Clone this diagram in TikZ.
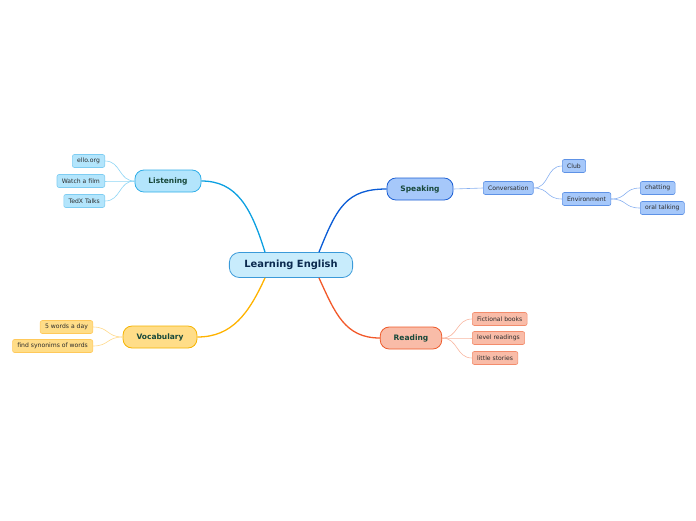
\documentclass[tikz,border=0pt]{standalone}
\usepackage{fontspec}
\setmainfont{DejaVu Sans}
\usepackage{tikz}

\definecolor{centerfill}{HTML}{C8ECFC}
\definecolor{centerdraw}{HTML}{3A9AD9}
\definecolor{centertext}{HTML}{0B2A4F}
\definecolor{topictext}{HTML}{17483A}
\definecolor{leaftext}{HTML}{2B2B2B}
\definecolor{lisline}{HTML}{0CA0E1}
\definecolor{lisfill}{HTML}{B3E5FC}
\definecolor{lisdraw}{HTML}{2FAEE8}
\definecolor{lisleafdraw}{HTML}{7FCDF2}
\definecolor{lisleafline}{HTML}{8DD5F5}
\definecolor{speline}{HTML}{0A5CD6}
\definecolor{spefill}{HTML}{A6C8FA}
\definecolor{spedraw}{HTML}{1C5FD4}
\definecolor{speleafdraw}{HTML}{5E92E6}
\definecolor{speleafline}{HTML}{88B0F0}
\definecolor{vocline}{HTML}{FFB300}
\definecolor{vocfill}{HTML}{FFDD88}
\definecolor{vocdraw}{HTML}{F5B300}
\definecolor{vocleafdraw}{HTML}{FFC95A}
\definecolor{vocleafline}{HTML}{FFD98A}
\definecolor{realine}{HTML}{F2592A}
\definecolor{reafill}{HTML}{F9BCA8}
\definecolor{readraw}{HTML}{EE5A2A}
\definecolor{realeafdraw}{HTML}{F38C6C}
\definecolor{realeafline}{HTML}{F8B59F}

\tikzset{
  centerbox/.style={rounded corners=10pt, minimum height=25pt, inner xsep=15pt,
    fill=centerfill, draw=centerdraw, line width=0.8pt, text=centertext,
    font=\fontsize{9.9}{11}\selectfont\bfseries},
  topicbox/.style={rounded corners=9pt, minimum height=22pt, inner xsep=13.5pt,
    line width=0.8pt, text=topictext, font=\fontsize{7.5}{9}\selectfont\bfseries},
  leafbox/.style={rounded corners=2pt, minimum height=13pt, inner xsep=4.8pt,
    line width=0.6pt, text=leaftext, font=\fontsize{6.1}{7}\selectfont},
  branch/.style={line width=1.3pt},
  twig/.style={line width=0.6pt}
}

\begin{document}
\begin{tikzpicture}[x=1pt, y=-1pt]
    \useasboundingbox (0,0) rectangle (696,520);
    % central topic
    \node[centerbox] (center) at (291,265) {Learning English};
    % main topics
    \node[topicbox, fill=lisfill, draw=lisdraw] (listening) at (168,181) {Listening};
    \node[topicbox, fill=spefill, draw=spedraw] (speaking) at (420,189) {Speaking};
    \node[topicbox, fill=vocfill, draw=vocdraw] (vocabulary) at (160,337) {Vocabulary};
    \node[topicbox, fill=reafill, draw=readraw] (reading) at (411,338) {Reading};
    % listening leaves
    \node[leafbox, fill=lisfill, draw=lisleafdraw, anchor=east] (ello) at (105,161) {ello.org};
    \node[leafbox, fill=lisfill, draw=lisleafdraw, anchor=east] (film) at (105,181) {Watch a film};
    \node[leafbox, fill=lisfill, draw=lisleafdraw, anchor=east] (tedx) at (105,201) {TedX Talks};
    % speaking leaves
    \node[leafbox, fill=spefill, draw=speleafdraw, anchor=west] (conversation) at (483,188) {Conversation};
    \node[leafbox, fill=spefill, draw=speleafdraw, anchor=west] (club) at (562,166) {Club};
    \node[leafbox, fill=spefill, draw=speleafdraw, anchor=west] (environment) at (562,199) {Environment};
    \node[leafbox, fill=spefill, draw=speleafdraw, anchor=west] (chatting) at (640,188) {chatting};
    \node[leafbox, fill=spefill, draw=speleafdraw, anchor=west] (oral) at (640,208) {oral talking};
    % vocabulary leaves
    \node[leafbox, fill=vocfill, draw=vocleafdraw, anchor=east] (words) at (93,327) {5 words a day};
    \node[leafbox, fill=vocfill, draw=vocleafdraw, anchor=east] (synonims) at (93,346) {find synonims of words};
    % reading leaves
    \node[leafbox, fill=reafill, draw=realeafdraw, anchor=west] (fictional) at (472,319) {Fictional books};
    \node[leafbox, fill=reafill, draw=realeafdraw, anchor=west] (level) at (472,338) {level readings};
    \node[leafbox, fill=reafill, draw=realeafdraw, anchor=west] (stories) at (472,358) {little stories};

    % branches
    \draw[branch, lisline] ([xshift=-26pt]center.north) .. controls +(-14,-45) and +(35,0) .. (listening.east);
    \draw[branch, speline] ([xshift=28pt]center.north) .. controls +(18,-45) and +(-40,0) .. (speaking.west);
    \draw[branch, vocline] ([xshift=-26pt]center.south) .. controls +(-16,35) and +(35,0) .. (vocabulary.east);
    \draw[branch, realine] ([xshift=28pt]center.south) .. controls +(16,35) and +(-35,0) .. (reading.west);

    % twigs
    \foreach \leaf in {ello, film, tedx}
        \draw[twig, lisleafline] (listening.west) .. controls +(-16,0) and +(16,0) .. (\leaf.east);
    \draw[twig, speleafline] (speaking.east) -- (conversation.west);
    \foreach \leaf in {club, environment}
        \draw[twig, speleafline] (conversation.east) .. controls +(16,0) and +(-16,0) .. (\leaf.west);
    \foreach \leaf in {chatting, oral}
        \draw[twig, speleafline] (environment.east) .. controls +(16,0) and +(-16,0) .. (\leaf.west);
    \foreach \leaf in {words, synonims}
        \draw[twig, vocleafline] (vocabulary.west) .. controls +(-16,0) and +(16,0) .. (\leaf.east);
    \foreach \leaf in {fictional, level, stories}
        \draw[twig, realeafline] (reading.east) .. controls +(16,0) and +(-16,0) .. (\leaf.west);
\end{tikzpicture}
\end{document}
